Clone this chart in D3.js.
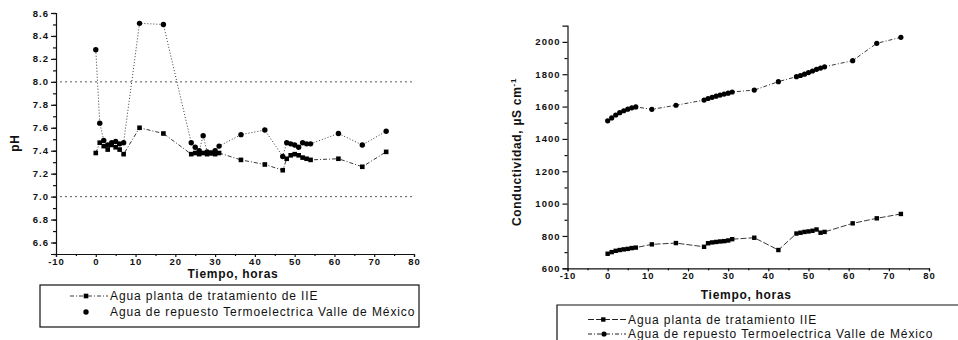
<!DOCTYPE html>
<html>
<head>
<meta charset="utf-8">
<script src="https://cdn.jsdelivr.net/npm/d3@7"></script>
<style>
  body { margin: 0; background: #fff; }
  text { font-family: "Liberation Sans", Arial, sans-serif; fill: #111; }
  .tick text { font-weight: bold; font-size: 9.5px; letter-spacing: 1px; }
  .titulo { font-weight: bold; font-size: 12px; letter-spacing: 0.7px; }
  .leyenda { font-size: 12px; letter-spacing: 0.9px; }
</style>
</head>
<body>
<div id="chart"></div>
<script>
// tiempo de muestreo (horas)
const horas = [0, 1, 2, 3, 4, 5, 6, 7, 11, 17, 24, 25, 26, 27, 28, 29, 30, 31,
  36.5, 42.5, 47, 48, 49, 50, 51, 52, 53, 54, 61, 67, 73];

// pH
const phIIE = [7.38, 7.47, 7.44, 7.41, 7.45, 7.43, 7.41, 7.37, 7.60, 7.55,
  7.37, 7.38, 7.37, 7.38, 7.37, 7.38, 7.37, 7.38, 7.32, 7.28,
  7.23, 7.33, 7.36, 7.37, 7.36, 7.34, 7.33, 7.32, 7.33, 7.26, 7.39];
const phTermo = [8.28, 7.64, 7.49, 7.45, 7.47, 7.48, 7.46, 7.47, 8.51, 8.50,
  7.47, 7.43, 7.40, 7.53, 7.39, 7.38, 7.40, 7.44, 7.54, 7.58,
  7.35, 7.47, 7.46, 7.45, 7.43, 7.47, 7.46, 7.46, 7.55, 7.45, 7.57];
const phLimites = [7.0, 8.0];

// conductividad (uS/cm)
const condIIE = [690, 700, 708, 713, 717, 720, 725, 728, 748, 756,
  733, 755, 760, 763, 766, 768, 772, 780, 789, 713,
  815, 820, 825, 828, 832, 840, 820, 825, 878, 909, 936];
const condTermo = [1512, 1530, 1548, 1562, 1574, 1584, 1592, 1598, 1583, 1608,
  1640, 1650, 1657, 1664, 1671, 1677, 1683, 1690, 1702, 1754,
  1785, 1792, 1800, 1810, 1820, 1830, 1838, 1846, 1884, 1991, 2028];

const xTicks = d3.range(-10, 81, 10);
const leyendaIzq = ['Agua planta de tratamiento de IIE', 'Agua de repuesto Termoelectrica Valle de México'];
const leyendaDer = ['Agua planta de tratamiento  IIE', 'Agua de repuesto Termoelectrica Valle de México'];

const svg = d3.select('#chart').append('svg')
  .attr('width', 958)
  .attr('height', 340);

function panel(c) {
  const g = svg.append('g');

  const x = d3.scaleLinear().domain([-10, 80]).range([c.left, c.right]);
  const y = d3.scaleLinear().domain(c.yDomain).range([c.bottom, c.top]);

  // eje x
  g.append('g')
    .attr('transform', 'translate(0,' + c.bottom + ')')
    .call(d3.axisBottom(x).tickValues(d3.range(-5, 80, 10)).tickSize(2).tickFormat(''))
    .call(a => a.select('.domain').remove());
  g.append('g')
    .attr('transform', 'translate(0,' + c.bottom + ')')
    .call(d3.axisBottom(x).tickValues(xTicks).tickSizeOuter(0).tickSize(3).tickPadding(1)
      .tickFormat(d => String(d)));

  // eje y
  g.append('g')
    .attr('transform', 'translate(' + c.left + ',0)')
    .call(d3.axisLeft(y).tickValues(c.yMinor).tickSize(3).tickFormat(''))
    .call(a => a.select('.domain').remove());
  g.append('g')
    .attr('transform', 'translate(' + c.left + ',0)')
    .call(d3.axisLeft(y).tickValues(c.yMajor).tickSizeOuter(0).tickSize(5).tickPadding(2)
      .tickFormat(c.yFormat));

  g.selectAll('.domain, .tick line').attr('stroke', '#111').attr('stroke-width', 1.2);

  (c.refs || []).forEach(v => {
    g.append('line')
      .attr('x1', c.left + 4).attr('x2', c.right)
      .attr('y1', y(v)).attr('y2', y(v))
      .attr('stroke', '#333').attr('stroke-width', 0.8)
      .attr('stroke-dasharray', '2,3');
  });

  c.series.forEach(s => {
    const pts = horas.map((h, i) => [h, s.values[i]]);
    g.append('path')
      .datum(pts)
      .attr('fill', 'none')
      .attr('stroke', '#222')
      .attr('stroke-width', 0.9)
      .attr('stroke-dasharray', s.dash)
      .attr('d', d3.line().x(d => x(d[0])).y(d => y(d[1])));
    if (s.shape === 'circle') {
      g.selectAll(null).data(pts).enter().append('circle')
        .attr('cx', d => x(d[0])).attr('cy', d => y(d[1]))
        .attr('r', s.size / 2).attr('fill', '#000');
    } else {
      g.selectAll(null).data(pts).enter().append('rect')
        .attr('x', d => x(d[0]) - s.size / 2).attr('y', d => y(d[1]) - s.size / 2)
        .attr('width', s.size).attr('height', s.size).attr('fill', '#000');
    }
  });

  g.append('text')
    .attr('class', 'titulo')
    .attr('x', (c.left + c.right) / 2 - 2).attr('y', c.xTitleY)
    .attr('text-anchor', 'middle')
    .text('Tiempo, horas');

  return { g, x, y };
}

// --- pH ---
const izq = panel({
  left: 56, right: 414, top: 13, bottom: 254,
  yDomain: [6.5, 8.6],
  yMajor: d3.range(6.6, 8.61, 0.2),
  yMinor: d3.range(6.5, 8.61, 0.1),
  yFormat: d3.format('.1f'),
  refs: phLimites,
  xTitleY: 278,
  series: [
    { values: phIIE, shape: 'square', size: 4.6, dash: '4,2,1,2' },
    { values: phTermo, shape: 'circle', size: 5.4, dash: '1,2' }
  ]
});

izq.g.append('text')
  .attr('class', 'titulo')
  .attr('transform', 'translate(19,143) rotate(-90)')
  .attr('text-anchor', 'middle')
  .text('pH');

const legI = izq.g.append('g');
legI.append('rect')
  .attr('x', 40).attr('y', 285).attr('width', 379).attr('height', 42)
  .attr('fill', 'none').attr('stroke', '#111').attr('stroke-width', 1.2);
legI.append('line')
  .attr('x1', 70).attr('x2', 108).attr('y1', 296).attr('y2', 296)
  .attr('stroke', '#222').attr('stroke-width', 0.9).attr('stroke-dasharray', '4,2,1,2');
legI.append('rect')
  .attr('x', 83.7).attr('y', 293.7).attr('width', 4.6).attr('height', 4.6).attr('fill', '#000');
legI.append('circle').attr('cx', 86).attr('cy', 312).attr('r', 2.7).attr('fill', '#000');
legI.selectAll('text.leyenda').data(leyendaIzq).enter().append('text')
  .attr('class', 'leyenda')
  .attr('x', 110).attr('y', (d, i) => 300 + i * 16)
  .text(d => d);

// --- conductividad ---
const der = panel({
  left: 567.5, right: 929, top: 25.7, bottom: 268.3,
  yDomain: [600, 2100],
  yMajor: d3.range(600, 2001, 200),
  yMinor: d3.range(700, 2100, 200),
  yFormat: d3.format('d'),
  xTitleY: 299,
  series: [
    { values: condIIE, shape: 'square', size: 4.4, dash: '6,2' },
    { values: condTermo, shape: 'circle', size: 5.2, dash: '4,2,1,2' }
  ]
});

const yLab = der.g.append('text')
  .attr('class', 'titulo')
  .attr('transform', 'translate(521,152) rotate(-90)')
  .attr('text-anchor', 'middle');
yLab.append('tspan').text('Conductividad, µS cm');
yLab.append('tspan').attr('dy', -5).attr('font-size', 8).text('-1');

const legD = der.g.append('g');
legD.append('path')
  .attr('d', 'M557,345V305H962')
  .attr('fill', 'none').attr('stroke', '#111').attr('stroke-width', 1.2);
legD.append('line')
  .attr('x1', 588).attr('x2', 626).attr('y1', 319.5).attr('y2', 319.5)
  .attr('stroke', '#222').attr('stroke-width', 1.1).attr('stroke-dasharray', '6,2');
legD.append('rect')
  .attr('x', 601.1).attr('y', 317.3).attr('width', 4.4).attr('height', 4.4).attr('fill', '#000');
legD.append('line')
  .attr('x1', 588).attr('x2', 626).attr('y1', 334).attr('y2', 334)
  .attr('stroke', '#222').attr('stroke-width', 1.1).attr('stroke-dasharray', '4,2,1,2');
legD.append('circle').attr('cx', 604).attr('cy', 334).attr('r', 2.6).attr('fill', '#000');
legD.selectAll('text.leyenda').data(leyendaDer).enter().append('text')
  .attr('class', 'leyenda')
  .attr('x', 628).attr('y', (d, i) => 323.5 + i * 14.5)
  .text(d => d);
</script>
</body>
</html>
